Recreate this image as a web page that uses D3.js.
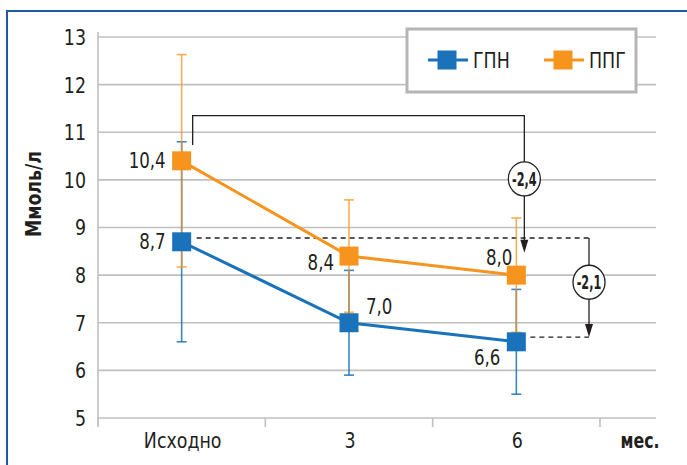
<!DOCTYPE html>
<html>
<head>
<meta charset="utf-8">
<script src="https://cdn.jsdelivr.net/npm/d3@7"></script>
<style>
  html, body { margin: 0; padding: 0; background: #fff; }
</style>
</head>
<body>
<script>
// data
const categories = ["Исходно", "3", "6"];
const seriesNames = ["ГПН", "ППГ"];
const gpnValues = [8.7, 7.0, 6.6];
const gpnErrors = [2.1, 1.1, 1.1];
const ppgValues = [10.4, 8.4, 8.0];
const ppgErrors = [2.23, 1.18, 1.2];
const yTicks = [5, 6, 7, 8, 9, 10, 11, 12, 13];
const deltaLabels = ["-2,4", "-2,1"];

const width = 687, height = 465;
const font = '"Liberation Sans Narrow", "Arial Narrow", "DejaVu Sans Condensed", "Roboto Condensed", sans-serif';
const blue = "#1a72bb", orange = "#f7941d", grid = "#c0c0c0", ink = "#231f20";
const squeeze = 0.88; // narrow the condensed font a bit more

const svg = d3.select("body").append("svg")
    .attr("width", width)
    .attr("height", height)
    .attr("font-family", font);

// text helper: position by transform so it can be squeezed horizontally
const at = (px, py, sx = squeeze) => `translate(${px},${py}) scale(${sx},1)`;

// blue frame (left + top)
svg.append("path")
    .attr("d", "M7,470V11H700")
    .attr("fill", "none")
    .attr("stroke", "#1f5aa6")
    .attr("stroke-width", 2);

const x = d3.scaleBand(categories, [98, 600]);
const y = d3.scaleLinear([5, 13], [418, 37]);
const xEnd = 656;

// gridlines
svg.append("g")
    .selectAll("line")
    .data(yTicks)
    .join("line")
    .attr("x1", 98).attr("x2", xEnd)
    .attr("y1", d => y(d)).attr("y2", d => y(d))
    .attr("stroke", grid)
    .attr("stroke-width", 1.6);

// y axis line
svg.append("line")
    .attr("x1", 98).attr("x2", 98)
    .attr("y1", y(13) - 5).attr("y2", y(5) + 7)
    .attr("stroke", grid).attr("stroke-width", 1.6);

// x ticks at band edges
const edges = categories.map(c => x(c)).concat([x(categories[2]) + x.bandwidth()]);
svg.append("g")
    .selectAll("line")
    .data(edges)
    .join("line")
    .attr("x1", d => d).attr("x2", d => d)
    .attr("y1", y(5)).attr("y2", y(5) + 9)
    .attr("stroke", grid).attr("stroke-width", 1.6);

// y tick labels
svg.append("g")
    .selectAll("text")
    .data(yTicks)
    .join("text")
    .attr("transform", d => at(86, y(d)))
    .attr("dy", "0.36em")
    .attr("text-anchor", "end")
    .attr("font-size", 22)
    .attr("fill", ink)
    .text(d => d);

// x labels
svg.append("g")
    .selectAll("text")
    .data(categories)
    .join("text")
    .attr("transform", d => at(x(d) + x.bandwidth() / 2 + 1, 448))
    .attr("text-anchor", "middle")
    .attr("font-size", 22)
    .attr("fill", ink)
    .text(d => d);

svg.append("text")
    .attr("transform", at(640, 448, 0.8))
    .attr("text-anchor", "middle")
    .attr("font-size", 22)
    .attr("font-weight", "bold")
    .attr("fill", ink)
    .text("мес.");

svg.append("text")
    .attr("transform", "translate(41,194) rotate(-90) scale(0.92,1)")
    .attr("text-anchor", "middle")
    .attr("font-size", 21)
    .attr("font-weight", "bold")
    .attr("fill", ink)
    .text("Ммоль/л");

const cx = c => x(c) + x.bandwidth() / 2;

// annotation: solid bracket with -2,4
const topLevel = 11.35, leftStart = 10.73, arrowTip = 8.47, circle1 = 10.02;
const bx0 = cx(categories[0]) + 11, bx1 = cx(categories[2]) + 8;
const r = 16;
svg.append("path")
    .attr("d", `M${bx0},${y(leftStart)}V${y(topLevel)}H${bx1}V${y(circle1) - r}M${bx1},${y(circle1) + r}V${y(arrowTip) - 10}`)
    .attr("fill", "none").attr("stroke", ink).attr("stroke-width", 1.3);

// annotation: dashed bracket with -2,1
const dashTop = 8.78, dashBottom = 6.7, circle2 = 7.85;
const dx0 = cx(categories[0]) + 15, dx1 = 589, dxb = cx(categories[2]) + 14;
svg.append("path")
    .attr("d", `M${dx0},${y(dashTop)}H${dx1}M${dxb},${y(dashBottom)}H${dx1}`)
    .attr("fill", "none").attr("stroke", ink).attr("stroke-width", 1.3)
    .attr("stroke-dasharray", "5,4");
svg.append("path")
    .attr("d", `M${dx1},${y(dashTop)}V${y(circle2) - r}M${dx1},${y(circle2) + r}V${y(dashBottom) - 10}`)
    .attr("fill", "none").attr("stroke", ink).attr("stroke-width", 1.3);

// arrowheads
const arrows = [[bx1, y(arrowTip)], [dx1, y(dashBottom)]];
svg.append("g")
    .selectAll("path")
    .data(arrows)
    .join("path")
    .attr("d", d => `M${d[0] - 4},${d[1] - 13}L${d[0] + 4},${d[1] - 13}L${d[0]},${d[1]}Z`)
    .attr("fill", ink);

// circles with deltas
const circles = [[bx1, y(circle1)], [dx1, y(circle2)]];
const cg = svg.append("g")
    .selectAll("g")
    .data(circles)
    .join("g")
    .attr("transform", d => `translate(${d[0]},${d[1]})`);
cg.append("ellipse")
    .attr("rx", r).attr("ry", r + 1)
    .attr("fill", "#fff").attr("stroke", ink).attr("stroke-width", 1.3);
cg.append("text")
    .attr("transform", at(0, 0, 0.66))
    .attr("text-anchor", "middle")
    .attr("dy", "0.36em")
    .attr("font-size", 19)
    .attr("font-weight", "bold")
    .attr("fill", ink)
    .text((d, i) => deltaLabels[i]);

// error bars
function errorBars(values, errors, color, opacity) {
    const g = svg.append("g")
        .attr("stroke", color)
        .attr("stroke-width", 1.6)
        .attr("stroke-opacity", opacity);
    categories.forEach((c, i) => {
        const lo = values[i] - errors[i], hi = values[i] + errors[i];
        g.append("line")
            .attr("x1", cx(c)).attr("x2", cx(c))
            .attr("y1", y(lo)).attr("y2", y(hi));
        [lo, hi].forEach(v => g.append("line")
            .attr("x1", cx(c) - 5).attr("x2", cx(c) + 5)
            .attr("y1", y(v)).attr("y2", y(v)));
    });
}
errorBars(gpnValues, gpnErrors, blue, 0.85);
errorBars(ppgValues, ppgErrors, orange, 0.75);

const line = d3.line()
    .x((d, i) => cx(categories[i]))
    .y(d => y(d));

const series = [
    {name: seriesNames[0], values: gpnValues, color: blue},
    {name: seriesNames[1], values: ppgValues, color: orange}
];

series.forEach(s => {
    svg.append("path")
        .attr("d", line(s.values))
        .attr("fill", "none")
        .attr("stroke", s.color)
        .attr("stroke-width", 3);
    svg.append("g")
        .selectAll("rect")
        .data(s.values)
        .join("rect")
        .attr("x", (d, i) => cx(categories[i]) - 9.5)
        .attr("y", d => y(d) - 9.5)
        .attr("width", 19).attr("height", 19)
        .attr("fill", s.color);
});

// value labels
const fmt = v => d3.format(".1f")(v).replace(".", ",");
const gpnLabelPos = [[-16, 0, "end"], [17, -16, "start"], [-16, 16, "end"]];
const ppgLabelPos = [[-16, 0, "end"], [-15, 6, "end"], [-4, -18, "end"]];
[[gpnValues, gpnLabelPos], [ppgValues, ppgLabelPos]].forEach(([vals, pos]) => {
    svg.append("g")
        .selectAll("text")
        .data(vals)
        .join("text")
        .attr("transform", (d, i) => at(cx(categories[i]) + pos[i][0], y(d) + pos[i][1]))
        .attr("dy", "0.36em")
        .attr("text-anchor", (d, i) => pos[i][2])
        .attr("font-size", 21)
        .attr("fill", ink)
        .text(d => fmt(d));
});

// legend
const legend = svg.append("g");
legend.append("rect")
    .attr("x", 407).attr("y", 29)
    .attr("width", 229).attr("height", 63)
    .attr("fill", "#fff")
    .attr("stroke", "#b5b5b5")
    .attr("stroke-width", 3);
const li = legend.selectAll("g")
    .data(series)
    .join("g")
    .attr("transform", (d, i) => `translate(${447 + i * 116},60)`);
li.append("line")
    .attr("x1", -19).attr("x2", 21)
    .attr("stroke", d => d.color).attr("stroke-width", 3);
li.append("rect")
    .attr("x", -9.5).attr("y", -9.5)
    .attr("width", 19).attr("height", 19)
    .attr("fill", d => d.color);
li.append("text")
    .attr("transform", at(26, 0))
    .attr("dy", "0.36em")
    .attr("font-size", 22)
    .attr("fill", ink)
    .text(d => d.name);
</script>
</body>
</html>
